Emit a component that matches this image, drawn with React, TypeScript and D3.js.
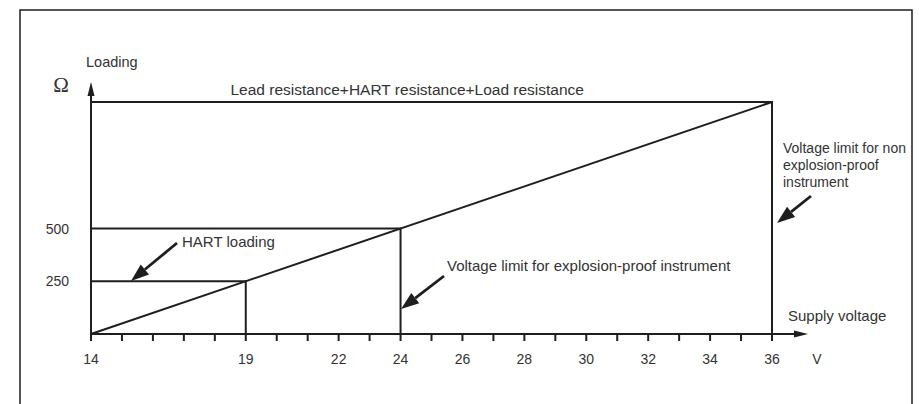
import * as d3 from 'd3';

// supply voltage ticks (V)
const voltTicks = d3.range(14, 37);
const voltLabels = [14, 19, 22, 24, 26, 28, 30, 32, 34, 36];
// loading ticks (ohm)
const loadLabels = [250, 500];
// loading line: R = (U - 14) / 0.02
const loadLine = [
  { volt: 14, ohm: 0 },
  { volt: 36, ohm: 1100 },
];
// limit boxes: voltage / loading
const limits = [
  { volt: 19, ohm: 250 },
  { volt: 24, ohm: 500 },
  { volt: 36, ohm: 1100 },
];

const W = 919;
const H = 404;
const ink = '#1e1e1e';
const font = '"Liberation Sans", Arial, Helvetica, sans-serif';

const x = d3.scaleLinear().domain([14, 36]).range([91, 772]);
const y = d3.scaleLinear().domain([0, 1100]).range([334, 102]);

function Arrow({ x1, y1, x2, y2 }: { x1: number; y1: number; x2: number; y2: number }) {
  const ang = Math.atan2(y2 - y1, x2 - x1);
  const len = 18;
  const half = 6.5;
  const bx = x2 - len * Math.cos(ang);
  const by = y2 - len * Math.sin(ang);
  const px = -Math.sin(ang) * half;
  const py = Math.cos(ang) * half;
  return (
    <g>
      <line x1={x1} y1={y1} x2={bx} y2={by} stroke={ink} strokeWidth={2.8} />
      <path d={`M${x2},${y2}L${bx + px},${by + py}L${bx - px},${by - py}Z`} fill={ink} />
    </g>
  );
}

export default function App() {
  const line = d3.line<{ volt: number; ohm: number }>()
    .x(d => x(d.volt))
    .y(d => y(d.ohm));

  const x0 = x(14);
  const y0 = y(0);

  return (
    <svg width={W} height={H} style={{ position: 'absolute', left: 0, top: 0 }}>
      <rect x={0} y={0} width={W} height={H} fill="#fff" />
      {/* frame */}
      <path d={`M20,${H + 5}V10H912V${H + 5}`} fill="none" stroke={ink} strokeWidth={1.5} />

      <g fontFamily={font} fill="#333">
        {/* limit boxes */}
        {limits.map(l => (
          <path
            key={l.volt}
            d={`M${x0},${y(l.ohm)}H${x(l.volt)}V${y0}`}
            fill="none"
            stroke={ink}
            strokeWidth={2}
          />
        ))}
        <path d={line(loadLine) ?? ''} fill="none" stroke={ink} strokeWidth={2} />

        {/* x axis */}
        <line x1={x0} y1={y0} x2={795} y2={y0} stroke={ink} strokeWidth={2} />
        <path d={`M808,${y0}L794,${y0 - 3.5}L794,${y0 + 3.5}Z`} fill={ink} />
        {voltTicks.map(t => (
          <line key={t} x1={x(t)} x2={x(t)} y1={y0} y2={y0 + 7} stroke={ink} strokeWidth={2} />
        ))}
        {voltLabels.map(t => (
          <text key={t} x={x(t)} y={364} fontSize={14} textAnchor="middle">{t}</text>
        ))}
        <text x={817} y={364} fontSize={14} textAnchor="middle">V</text>
        <text x={788} y={321} fontSize={15}>Supply voltage</text>

        {/* y axis */}
        <line x1={x0} y1={y0} x2={x0} y2={95} stroke={ink} strokeWidth={2} />
        <path d={`M${x0},82L${x0 - 3.5},96L${x0 + 3.5},96Z`} fill={ink} />
        {loadLabels.map(t => (
          <text key={t} x={69} y={y(t) + 5} fontSize={14} textAnchor="end">{t}</text>
        ))}
        <text x={86} y={67} fontSize={14.5}>Loading</text>
        <text x={61} y={92} fontSize={21} textAnchor="middle" fontFamily='"Liberation Serif", serif'>Ω</text>

        {/* annotations */}
        <text x={584} y={95} fontSize={15.5} textAnchor="end">Lead resistance+HART resistance+Load resistance</text>
        <text x={182} y={247} fontSize={15}>HART loading</text>
        <Arrow x1={177} y1={243} x2={131} y2={281} />
        <text x={447} y={271} fontSize={15}>Voltage limit for explosion-proof instrument</text>
        <Arrow x1={444} y1={276} x2={401} y2={309} />
        <text fontSize={14}>
          <tspan x={783} y={153}>Voltage limit for non</tspan>
          <tspan x={783} y={170}>explosion-proof</tspan>
          <tspan x={783} y={187}>instrument</tspan>
        </text>
        <Arrow x1={811} y1={196} x2={777} y2={223} />
      </g>
    </svg>
  );
}
